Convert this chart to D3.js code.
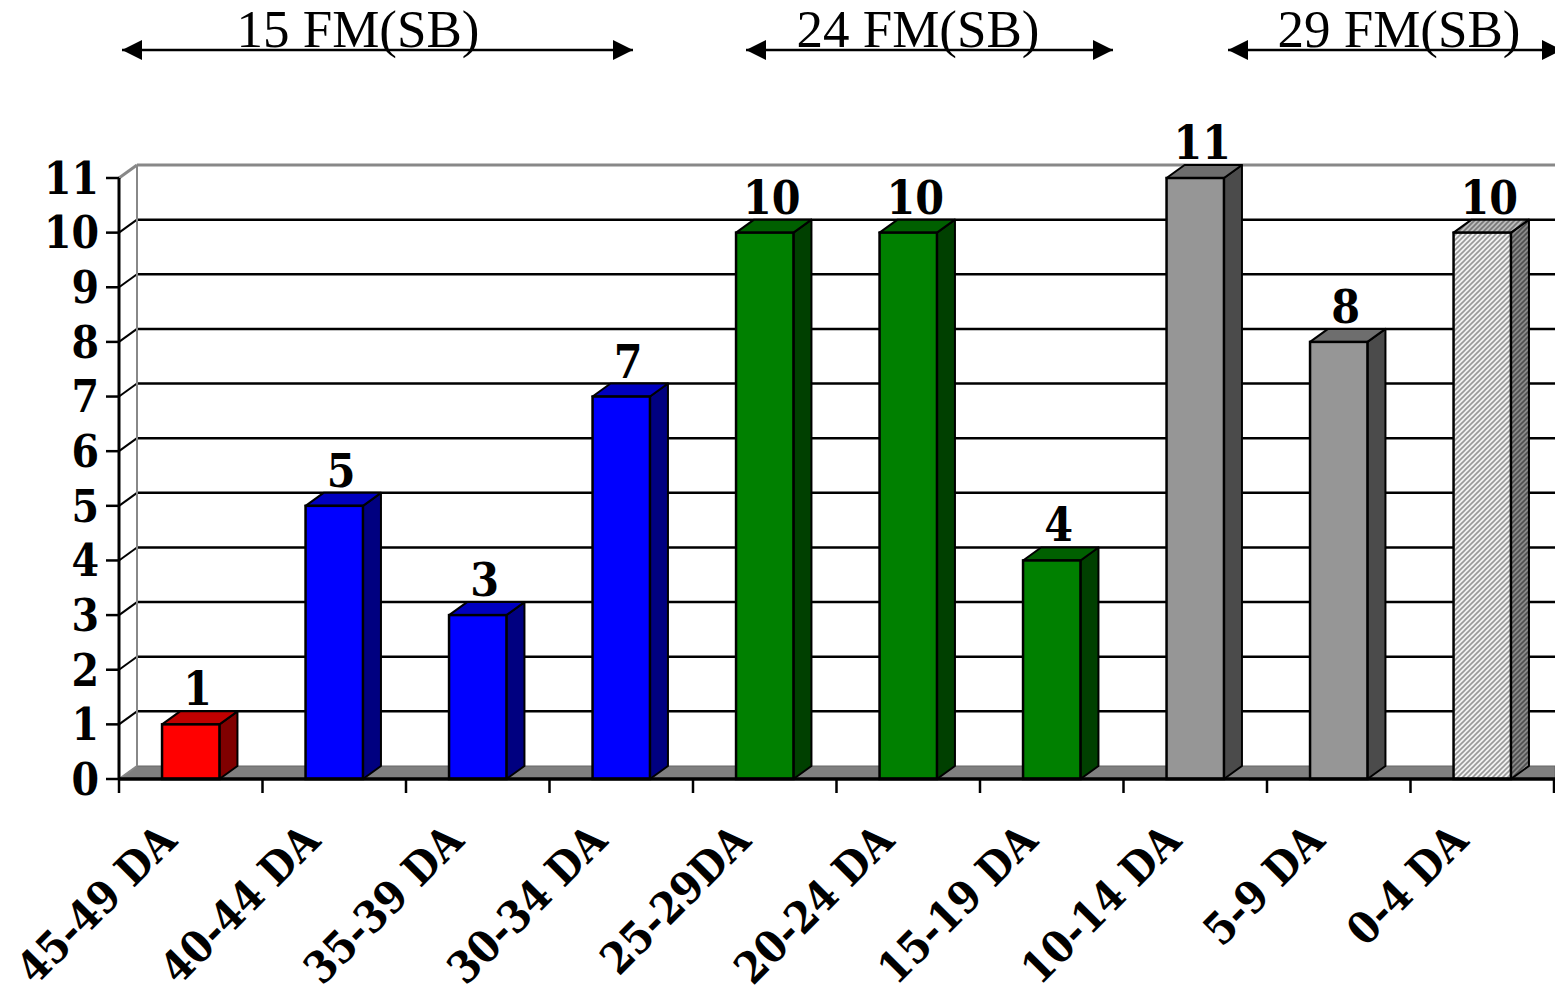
<!DOCTYPE html>
<html><head><meta charset="utf-8">
<script src="https://cdn.jsdelivr.net/npm/d3@7"></script>
<style>html,body{margin:0;padding:0;background:#fff;}svg{display:block;}
.bf{font-family:"DejaVu Serif Condensed","DejaVu Serif",serif;font-stretch:condensed;font-weight:bold;}</style>
</head><body>
<svg id="chart" width="1555" height="993"></svg>
<script>
const categories = ["45-49 DA","40-44 DA","35-39 DA","30-34 DA","25-29DA","20-24 DA","15-19 DA","10-14 DA","5-9 DA","0-4 DA"];
const values = [1,5,3,7,10,10,4,11,8,10];
const colorGroups = ["red","blue","blue","blue","green","green","green","gray","gray","hatch"];
const yTicks = [0,1,2,3,4,5,6,7,8,9,10,11];
const groupLabels = ["15 FM(SB)","24 FM(SB)","29 FM(SB)"];

(function(){
// layout (annotation geometry)
const groupArrows = [[122,633,358],[746,1113,918],[1228,1562,1399]];
const palette = {
  red:{front:"#ff0000", top:"#c00000", side:"#800000"},
  blue:{front:"#0000ff", top:"#0000c0", side:"#000080"},
  green:{front:"#008000", top:"#006000", side:"#004000"},
  gray:{front:"#969696", top:"#6e6e6e", side:"#4b4b4b"},
  hatch:{front:"url(#hatchFront)", top:"url(#hatchTop)", side:"url(#hatchSide)"}
};

const svg = d3.select("#chart");
const pLeft = 119, pRight = 1554, pBottom = 779, pTop = 178;
const dx = 18, dy = -13;
const x = d3.scaleBand().domain(categories).range([pLeft, pRight]).padding(0);
const y = d3.scaleLinear().domain([0, 11]).range([pBottom, pTop]);
const bw = x.bandwidth() * 0.4;

const defs = svg.append("defs");
function hatch(id, bg, fg){
  const p = defs.append("pattern").attr("id", id).attr("patternUnits","userSpaceOnUse")
    .attr("width",5).attr("height",5);
  p.append("rect").attr("width",5).attr("height",5).attr("fill",bg);
  p.append("path").attr("d","M-1,6 L6,-1 M-1,1 L1,-1 M4,6 L6,4").attr("stroke",fg).attr("stroke-width",1.6);
}
hatch("hatchFront","#f2f2f2","#999999");
hatch("hatchTop","#bdbdbd","#777777");
hatch("hatchSide","#8a8a8a","#505050");
const mk = defs.append("marker").attr("id","arrow").attr("viewBox","0 0 20 20")
  .attr("refX",20).attr("refY",10).attr("markerWidth",20).attr("markerHeight",20)
  .attr("markerUnits","userSpaceOnUse").attr("orient","auto-start-reverse");
mk.append("path").attr("d","M0,0 L20,10 L0,20 Z").attr("fill","#000");

// floor
const floorY0 = y(0);
svg.append("polygon")
  .attr("points", [[pLeft,floorY0],[pLeft+dx,floorY0+dy],[1555,floorY0+dy],[1555,floorY0]].map(p=>p.join(",")).join(" "))
  .attr("fill","#808080").attr("stroke","#666").attr("stroke-width",1);

// gridlines on back wall + left wall
const grid = yTicks.filter(v => v > 0 && v < 11);
svg.selectAll("line.grid").data(grid).enter().append("line")
  .attr("x1", pLeft+dx).attr("x2", 1555).attr("y1", d=>y(d)+dy).attr("y2", d=>y(d)+dy)
  .attr("stroke","#000").attr("stroke-width",2.5);
svg.selectAll("line.gridside").data(grid).enter().append("line")
  .attr("x1", pLeft).attr("x2", pLeft+dx).attr("y1", d=>y(d)).attr("y2", d=>y(d)+dy)
  .attr("stroke","#000").attr("stroke-width",2);

// wall edges
svg.append("line").attr("x1",pLeft+dx).attr("x2",1555).attr("y1",y(11)+dy).attr("y2",y(11)+dy)
  .attr("stroke","#888").attr("stroke-width",3);
svg.append("line").attr("x1",pLeft+dx).attr("x2",pLeft+dx).attr("y1",y(11)+dy).attr("y2",y(0)+dy)
  .attr("stroke","#888").attr("stroke-width",2);
svg.append("line").attr("x1",pLeft).attr("x2",pLeft+dx).attr("y1",y(11)).attr("y2",y(11)+dy)
  .attr("stroke","#888").attr("stroke-width",3);
svg.append("line").attr("x1",pLeft).attr("x2",pLeft+dx).attr("y1",y(0)).attr("y2",y(0)+dy)
  .attr("stroke","#888").attr("stroke-width",2);

// bars
const bars = svg.selectAll("g.bar").data(categories.map((c,i)=>({c, v:values[i], g:colorGroups[i]})))
  .enter().append("g");
bars.each(function(d){
  const g = d3.select(this);
  const x0 = x(d.c) + (x.bandwidth()-bw)/2, x1 = x0 + bw;
  const yv = y(d.v), y0 = y(0);
  const col = palette[d.g];
  g.append("polygon").attr("points",[[x1,yv],[x1+dx,yv+dy],[x1+dx,y0+dy],[x1,y0]].map(p=>p.join(",")).join(" "))
    .attr("fill",col.side).attr("stroke","#000").attr("stroke-width",2).attr("stroke-linejoin","round");
  g.append("polygon").attr("points",[[x0,yv],[x0+dx,yv+dy],[x1+dx,yv+dy],[x1,yv]].map(p=>p.join(",")).join(" "))
    .attr("fill",col.top).attr("stroke","#000").attr("stroke-width",2).attr("stroke-linejoin","round");
  g.append("rect").attr("x",x0).attr("y",yv).attr("width",bw).attr("height",y0-yv)
    .attr("fill",col.front).attr("stroke","#000").attr("stroke-width",2.5);
  g.append("text").attr("class","bf").attr("x",(x0+x1)/2 + 7).attr("y",yv+dy-6)
    .attr("text-anchor","middle").attr("font-size",46).attr("fill","#000").text(d.v);
});

// front axes
svg.append("line").attr("x1",pLeft).attr("x2",pLeft).attr("y1",y(11)).attr("y2",y(0)+1)
  .attr("stroke","#000").attr("stroke-width",3);
svg.append("line").attr("x1",pLeft-1).attr("x2",1555).attr("y1",y(0)).attr("y2",y(0))
  .attr("stroke","#000").attr("stroke-width",3.5);

// y ticks
svg.selectAll("line.yt").data(yTicks).enter().append("line")
  .attr("x1",pLeft-13).attr("x2",pLeft).attr("y1",d=>y(d)).attr("y2",d=>y(d))
  .attr("stroke","#000").attr("stroke-width",2.5);
svg.selectAll("text.yl").data(yTicks).enter().append("text").attr("class","bf")
  .attr("x",99).attr("y",d=>y(d)).attr("dy","0.36em").attr("text-anchor","end")
  .attr("font-size",44).text(d=>d);

// x ticks at band boundaries
const bounds = categories.map(c=>x(c)).concat([pRight]);
svg.selectAll("line.xt").data(bounds).enter().append("line")
  .attr("x1",d=>d).attr("x2",d=>d).attr("y1",y(0)).attr("y2",y(0)+14)
  .attr("stroke","#000").attr("stroke-width",2.5);
svg.selectAll("text.xl").data(categories).enter().append("text").attr("class","bf")
  .attr("transform",d=>`translate(${x(d)+x.bandwidth()/2-12},843) rotate(-45)`)
  .attr("text-anchor","end").attr("font-size",43.5).text(d=>d);

// group annotations
groupArrows.forEach((a,i)=>{
  svg.append("line").attr("x1",a[0]).attr("x2",a[1]).attr("y1",50).attr("y2",50)
    .attr("stroke","#000").attr("stroke-width",2.5)
    .attr("marker-start","url(#arrow)").attr("marker-end","url(#arrow)");
  svg.append("text").attr("x",a[2]).attr("y",47).attr("text-anchor","middle")
    .attr("font-family","Liberation Serif").attr("font-size",53).text(groupLabels[i]);
});
})();
</script>
</body></html>
